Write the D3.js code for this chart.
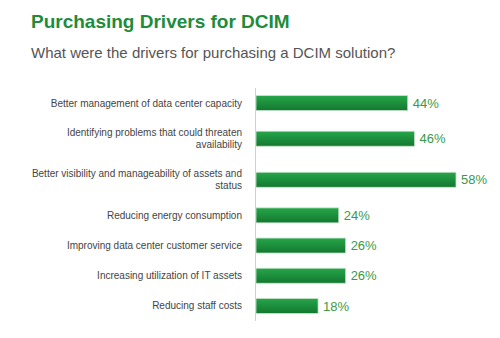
<!DOCTYPE html>
<html>
<head>
<meta charset="utf-8">
<script src="https://cdn.jsdelivr.net/npm/d3@7"></script>
<style>
  html, body { margin: 0; padding: 0; background: #fff; }
  svg { display: block; }
</style>
</head>
<body>
<svg id="chart" width="500" height="338"></svg>
<script>
const titleText = "Purchasing Drivers for DCIM";
const subtitleText = "What were the drivers for purchasing a DCIM solution?";
const categories = [
  ["Better management of data center capacity"],
  ["Identifying problems that could threaten", "availability"],
  ["Better visibility and manageability of assets and", "status"],
  ["Reducing energy consumption"],
  ["Improving data center customer service"],
  ["Increasing utilization of IT assets"],
  ["Reducing staff costs"]
];
const values = [44, 46, 58, 24, 26, 26, 18];
const valueLabels = ["44%", "46%", "58%", "24%", "26%", "26%", "18%"];

const svg = d3.select("#chart");
const font = "'Liberation Sans', Arial, sans-serif";

svg.append("text").attr("x", 31).attr("y", 28)
  .attr("font-family", font).attr("font-size", 19).attr("font-weight", "bold")
  .attr("fill", "#1e8c3a").text(titleText);
svg.append("text").attr("x", 31).attr("y", 58)
  .attr("font-family", font).attr("font-size", 15)
  .attr("fill", "#555").text(subtitleText);

// row heights: single-line rows 1 unit, two-line rows taller
const weights = categories.map(c => c.length > 1 ? 1.36 : 1);
const cum = [];
let acc = 0;
weights.forEach(w => { cum.push(acc + w / 2); acc += w; });
const total = acc;

const axisX = 256;
const yScale = d3.scaleLinear().domain([0, total]).range([88, 321]);
const x = d3.scaleLinear().domain([0, 58]).range([axisX, 456]);
const barH = 15;

const defs = svg.append("defs");
const grad = defs.append("linearGradient").attr("id", "g").attr("x1", 0).attr("y1", 0).attr("x2", 0).attr("y2", 1);
grad.append("stop").attr("offset", "0%").attr("stop-color", "#27a64a");
grad.append("stop").attr("offset", "100%").attr("stop-color", "#12782f");

svg.append("line").attr("x1", axisX - 0.5).attr("x2", axisX - 0.5)
  .attr("y1", yScale(0)).attr("y2", yScale(total))
  .attr("stroke", "#d0d0d0").attr("stroke-width", 1);

const rows = svg.selectAll("g.row").data(values).enter().append("g").attr("class", "row");

rows.append("rect")
  .attr("x", axisX)
  .attr("y", (d, i) => yScale(cum[i]) - barH / 2)
  .attr("width", d => x(d) - axisX)
  .attr("height", barH)
  .attr("fill", "url(#g)")
  .attr("stroke", "#c8e3cc").attr("stroke-width", 0.8);

rows.append("text")
  .attr("x", d => x(d) + 5)
  .attr("y", (d, i) => yScale(cum[i]))
  .attr("dy", "0.36em")
  .attr("font-family", font).attr("font-size", 13)
  .attr("fill", "#3a9a48")
  .text((d, i) => valueLabels[i]);

const lab = rows.append("text")
  .attr("text-anchor", "end")
  .attr("font-family", font).attr("font-size", 10)
  .attr("fill", "#444");
lab.each(function(d, i) {
  const lines = categories[i];
  const cy = yScale(cum[i]);
  const lh = 12;
  lines.forEach((ln, j) => {
    d3.select(this).append("tspan")
      .attr("x", 242)
      .attr("y", cy + (j - (lines.length - 1) / 2) * lh)
      .attr("dy", "0.35em")
      .text(ln);
  });
});
</script>
</body>
</html>
